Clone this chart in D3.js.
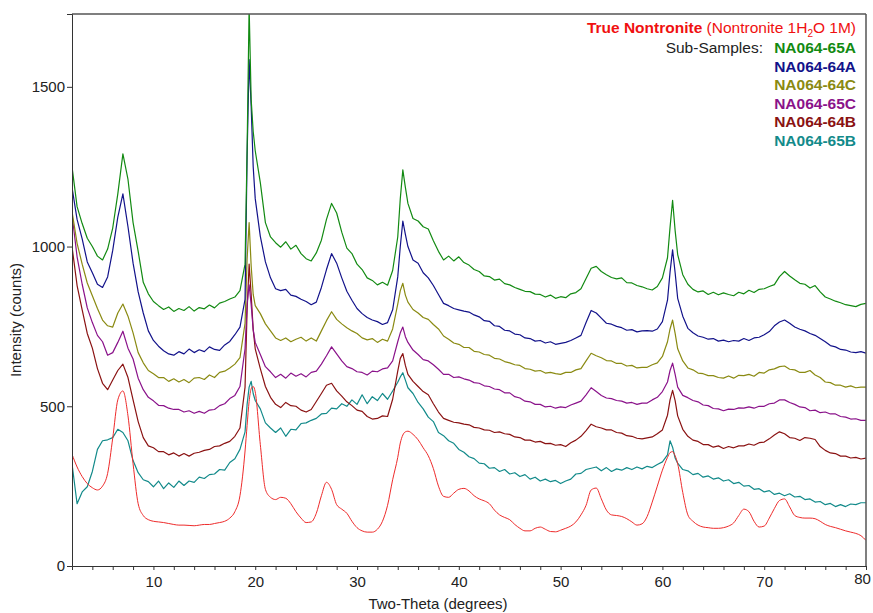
<!DOCTYPE html>
<html><head><meta charset="utf-8">
<script src="https://cdn.jsdelivr.net/npm/d3@7"></script>
<style>body{margin:0;background:#fff}svg{display:block}text{font-family:"Liberation Sans",Arial,Helvetica,sans-serif}</style>
</head><body><svg id="c" width="873" height="613"></svg>
<script>
// ---- data ----
const twoTheta = [2,2.5,3,3.5,4,4.5,5,5.5,6,6.5,7,7.5,8,8.5,9,9.5,
10,10.5,11,11.5,12,12.5,13,13.5,14,14.5,15,15.5,16,16.5,17,17.5,18,18.5,
19,19.2,19.4,19.6,19.8,
20,20.5,21,21.5,22,22.5,23,23.5,24,24.5,25,25.5,26,26.5,27,27.5,
28,28.5,29,29.5,30,30.5,31,31.5,32,32.5,33,33.5,
34,34.25,34.5,34.75,
35,35.5,36,36.5,37,37.5,38,38.5,39,39.5,40,40.5,41,41.5,42,42.5,
43,43.5,44,44.5,45,45.5,46,46.5,47,47.5,48,48.5,49,49.5,50,50.5,
51,51.5,52,52.5,53,53.5,54,54.5,55,55.5,56,56.5,57,57.5,58,58.5,
59,59.5,60,60.5,
60.75,61,61.25,
61.5,62,62.5,63,63.5,64,64.5,65,65.5,66,66.5,67,67.5,68,68.5,69,69.5,
70,70.5,71,71.5,72,72.5,73,73.5,74,74.5,75,75.5,76,76.5,77,77.5,78,78.5,79,79.5,80];

const na06465A = [1250,1125,1072,1026,1000,970,958,992,1058,1165,1290,1210,1075,985,888,852,
828,815,803,811,797,806,800,812,798,809,805,817,808,823,828,836,842,862,
945,1300,1750,1460,1360,
1300,1200,1075,1030,1012,998,1015,992,1004,978,962,955,980,1020,1085,1135,
1105,1045,995,978,945,928,902,894,880,888,879,925,
1030,1150,1240,1185,
1135,1088,1080,1062,1055,1018,985,958,970,955,968,950,942,928,922,908,
906,895,898,884,880,872,866,860,859,851,850,842,848,838,843,840,
852,856,868,900,932,938,922,912,903,899,902,887,886,878,874,868,
864,875,902,965,
1060,1145,1050,
975,912,882,866,858,861,850,857,849,855,850,846,857,852,863,856,866,
868,875,881,906,922,908,896,885,882,870,878,858,842,836,829,824,818,815,812,819,822];

const na06464A = [1185,1085,1024,952,918,882,872,905,988,1092,1165,1062,948,858,792,736,
706,688,674,664,660,671,664,679,668,677,671,686,678,675,692,703,724,748,
835,1280,1585,1440,1250,
1150,1032,952,902,868,862,866,848,844,835,828,818,826,872,928,978,
948,902,860,832,806,790,778,770,765,756,762,802,
905,1000,1080,1038,
1000,958,948,918,902,878,850,822,815,806,802,798,795,786,780,768,
766,752,750,738,736,726,724,714,712,704,706,698,702,694,697,700,
706,714,722,762,800,792,776,760,757,750,746,738,740,733,736,737,
735,742,765,832,
920,990,918,
838,782,744,730,720,716,710,712,704,707,702,706,704,712,706,714,716,
724,734,752,764,770,760,748,741,736,728,722,712,702,690,686,678,676,670,668,671,666];

const na06464C = [1110,1010,945,886,846,806,770,752,748,792,820,782,730,668,636,612,
602,590,590,578,586,576,584,574,588,590,584,598,590,606,610,620,632,652,
760,960,1075,940,850,
815,790,758,736,714,706,714,702,710,716,704,714,704,736,768,796,
772,758,746,736,728,714,708,712,700,710,704,742,
820,862,885,848,
826,803,792,778,772,756,742,720,710,698,694,684,684,672,670,662,
660,650,648,640,636,630,628,618,616,610,612,604,606,602,600,606,
606,614,618,642,666,658,652,643,642,634,634,626,628,620,622,622,
630,636,656,702,
742,770,728,
680,642,620,614,604,602,596,596,590,588,595,588,597,596,600,594,606,
604,614,617,624,626,616,614,606,606,612,598,590,576,574,566,566,560,564,558,560,560];

const na06465C = [1100,968,882,808,762,722,702,660,668,700,735,682,648,588,552,528,
517,503,502,494,490,490,482,486,478,484,478,488,490,502,508,524,534,562,
680,820,880,818,740,
700,662,624,608,590,600,588,604,594,602,592,606,610,632,658,686,
664,642,624,618,608,606,598,610,608,617,620,642,
702,730,748,718,
700,676,662,646,642,630,616,600,600,590,592,586,582,574,572,564,
562,554,552,542,542,530,526,516,514,506,506,498,500,494,498,496,
504,510,516,536,558,546,534,526,524,518,516,510,512,506,510,510,
520,528,546,576,
612,635,600,
560,534,527,518,514,504,502,493,492,486,491,490,495,494,498,494,500,
500,508,510,520,520,512,506,498,496,486,488,480,482,476,476,468,466,460,461,456,456];

const na06464B = [1000,878,802,728,682,618,572,552,582,612,632,590,520,452,402,376,
370,358,358,348,354,344,352,344,353,356,362,365,374,376,384,390,406,432,
560,800,945,850,740,
680,618,562,528,506,496,512,502,500,488,482,490,515,540,566,572,
548,532,514,502,488,484,468,460,462,470,468,522,
610,650,665,628,
600,578,562,546,536,508,482,462,456,450,448,444,442,434,432,426,
425,418,420,414,412,404,402,394,394,388,390,383,384,378,380,374,
386,394,406,424,444,436,432,426,426,418,416,408,406,400,398,401,
404,414,426,472,
520,550,518,
470,428,406,394,390,380,380,372,376,368,374,370,376,376,382,378,386,
388,398,410,420,414,402,400,393,402,400,396,374,362,354,352,344,344,338,340,335,338];

const na06465B = [320,195,232,248,296,365,392,395,402,428,418,392,330,292,270,264,
248,266,242,260,246,266,252,266,262,278,274,286,288,302,300,324,336,365,
420,505,560,578,540,
518,492,448,432,418,432,406,428,426,446,448,456,462,476,478,494,
492,508,500,520,506,536,508,530,518,540,522,548,
575,592,605,582,
558,540,512,492,466,452,418,408,392,384,365,356,342,336,322,320,
306,308,296,302,288,292,280,286,272,278,266,272,264,268,258,266,
272,288,290,302,306,310,298,308,296,304,300,308,302,310,304,312,
308,318,326,348,
392,372,338,
322,302,298,286,290,278,282,272,276,266,270,258,262,250,252,240,242,
232,236,224,228,220,226,216,218,208,210,200,202,192,196,186,192,186,194,192,198,198];

const trueNontronite = [350,310,280,258,245,238,250,290,400,520,548,470,320,195,158,145,
140,138,136,133,130,128,128,127,126,128,130,130,133,136,140,150,170,220,
360,440,515,555,562,
545,380,240,215,208,215,212,195,170,150,136,138,165,220,262,240,
192,178,165,140,120,110,106,106,115,140,190,270,
340,385,410,420,
422,412,395,370,345,305,250,218,215,228,240,243,235,220,210,204,
195,175,160,152,145,130,118,110,110,118,122,115,108,107,112,118,
125,138,160,190,238,244,210,175,160,158,155,148,138,128,132,155,
200,250,300,340,
355,358,345,
320,230,160,140,128,122,120,118,118,120,125,135,158,178,170,140,122,
125,150,180,205,210,185,158,152,150,150,148,140,130,124,120,115,110,106,102,95,80];

const sampleNames = ["NA064-65A","NA064-64A","NA064-64C","NA064-65C","NA064-64B","NA064-65B"];
const sampleValues = [na06465A, na06464A, na06464C, na06465C, na06464B, na06465B];
const sampleColors = ["#128a12","#12128a","#8a8a12","#8a128a","#8a1212","#128a8a"];
const xTickLabels = [10,20,30,40,50,60,70,80];
const xMinorTicks = [4,6,8,12,14,16,18,22,24,26,28,32,34,36,38,42,44,46,48,52,54,56,58,62,64,66,68,72,74,76,78];
const yTickLabels = [0,500,1000,1500];

// ---- chart ----
const svg = d3.select("#c");
const L=72, R=866, T=14, B=566;
const x = d3.scaleLinear().domain([2,80]).range([L,R]);
const y = d3.scaleLinear().domain([0,1728]).range([B,T]);

svg.append("clipPath").attr("id","clip").append("rect")
  .attr("x",L).attr("y",T).attr("width",R-L).attr("height",B-T);

const lineG = svg.append("g").attr("clip-path","url(#clip)");
const line = d3.line().x((d,i)=>x(twoTheta[i])).y(d=>y(d));
const smooth = d3.line().x((d,i)=>x(twoTheta[i])).y(d=>y(d)).curve(d3.curveMonotoneX);

for (let k = sampleValues.length-1; k >= 0; k--) {
  lineG.append("path").attr("d", line(sampleValues[k]))
    .attr("fill","none").attr("stroke",sampleColors[k]).attr("stroke-width",1.2)
    .attr("stroke-linejoin","round");
}
lineG.append("path").attr("d", smooth(trueNontronite))
  .attr("fill","none").attr("stroke","#ee2b2b").attr("stroke-width",1);

// frame top/right
svg.append("line").attr("x1",L).attr("x2",R).attr("y1",T).attr("y2",T).attr("stroke","#555").attr("stroke-width",1.5);
svg.append("line").attr("x1",R).attr("x2",R).attr("y1",T).attr("y2",B).attr("stroke","#555").attr("stroke-width",1.5);

// axes
const xMajor = svg.append("g").attr("transform",`translate(0,${B})`)
  .call(d3.axisBottom(x).tickValues(xTickLabels).tickSize(4).tickPadding(6).tickFormat(d3.format("d")));
const xMinor = svg.append("g").attr("transform",`translate(0,${B})`)
  .call(d3.axisBottom(x).tickValues(xMinorTicks).tickSize(4).tickFormat(""));
xMinor.select(".domain").remove();
const yAx = svg.append("g").attr("transform",`translate(${L},0)`)
  .call(d3.axisLeft(y).tickValues(yTickLabels).tickSize(5).tickPadding(2).tickFormat(d3.format("d")));
[xMajor, xMinor, yAx].forEach(g=>{
  g.selectAll("line").attr("stroke","#333");
  g.selectAll(".domain").attr("stroke","#333");
  g.selectAll("text").attr("font-size",15).attr("fill","#222")
    .attr("font-family",'"Liberation Sans",Arial,Helvetica,sans-serif');
});
// last label sits slightly inward/up so it stays inside the page
xMajor.selectAll(".tick").filter(d=>d===80).select("text").attr("dx",-4).attr("dy","0.55em");

// axis titles
svg.append("text").attr("x",438).attr("y",609).attr("text-anchor","middle")
  .attr("font-size",15).attr("fill","#222").text("Two-Theta (degrees)");
svg.append("text").attr("transform","translate(21,320) rotate(-90)").attr("text-anchor","middle")
  .attr("font-size",15).attr("fill","#222").text("Intensity (counts)");

// legend
const t1 = svg.append("text").attr("x",856).attr("y",33).attr("text-anchor","end")
  .attr("font-size",15.5).attr("fill","#f01010");
t1.append("tspan").attr("font-weight","bold").text("True Nontronite");
t1.append("tspan").text(" (Nontronite 1H");
t1.append("tspan").attr("font-size",10).attr("dy",4).text("2");
t1.append("tspan").attr("dy",-4).text("O 1M)");

svg.append("text").attr("x",763).attr("y",53).attr("text-anchor","end")
  .attr("font-size",15.5).attr("fill","#222").text("Sub-Samples:");
sampleNames.forEach((n,i)=>{
  svg.append("text").attr("x",856).attr("y",53+i*18.6).attr("text-anchor","end")
    .attr("font-size",15.5).attr("font-weight","bold").attr("fill",sampleColors[i]).text(n);
});
</script></body></html>
